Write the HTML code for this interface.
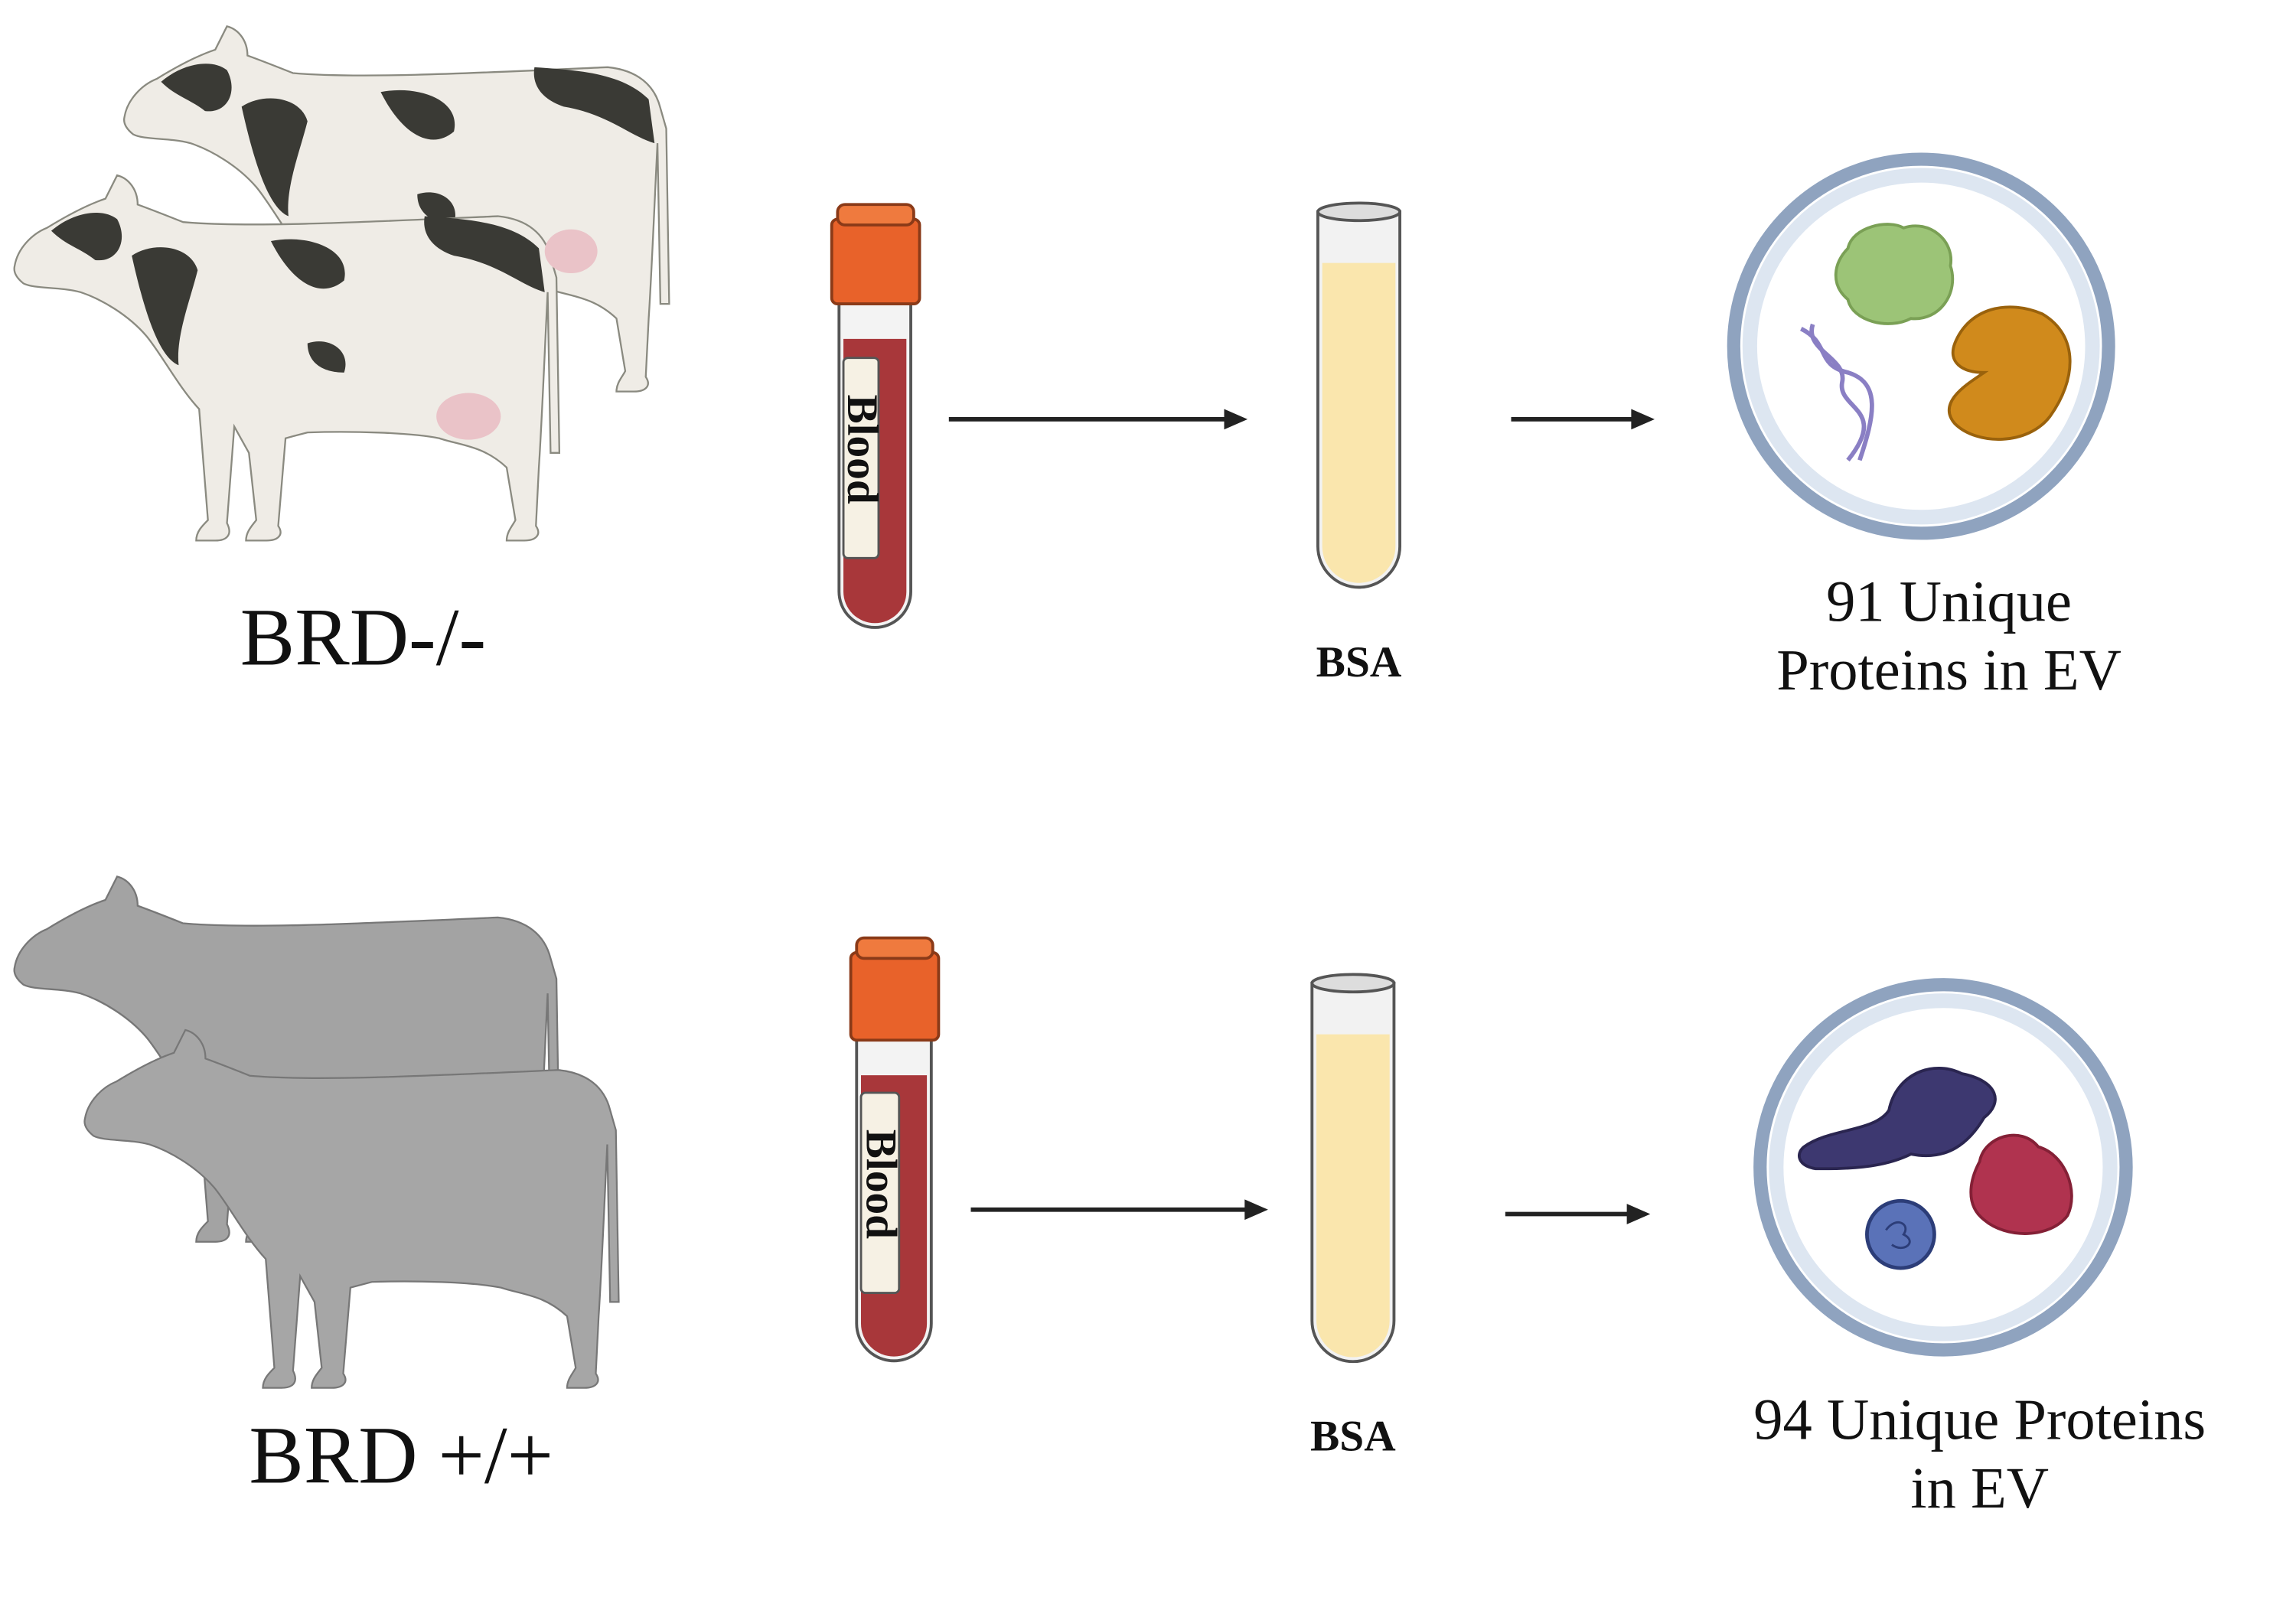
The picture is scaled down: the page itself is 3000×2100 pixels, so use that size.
<!DOCTYPE html>
<html><head><meta charset="utf-8"><style>
html,body{margin:0;padding:0;background:#fff;}
svg{display:block;}
text{font-family:"Liberation Serif",serif;fill:#111;}
</style></head><body>
<svg width="3000" height="2100" viewBox="0 0 1568 1100" preserveAspectRatio="none" xmlns="http://www.w3.org/2000/svg">
<defs>
<path id="cow" d="M0,62 C2,50 12,40 22,36 C35,28 50,20 62,16 L70,0 C78,2 84,10 84,20 C95,24 105,28 115,32 C160,36 240,32 330,28 C350,30 362,40 366,56 L370,70 L372,190 L366,190 L364,80 C362,120 360,170 358,200 L356,240 C360,246 356,250 348,250 L336,250 C336,244 340,240 342,236 L336,200 C320,185 305,185 290,180 C270,176 230,175 200,176 L185,180 L180,240 C184,246 180,250 172,250 L158,250 C158,244 162,240 165,236 L160,190 L150,172 L145,238 C149,246 145,250 137,250 L124,250 C124,244 128,240 132,236 L126,160 C112,145 100,122 90,110 C78,96 60,85 45,80 C30,76 14,78 6,74 C1,70 -1,66 0,62 Z"/>
<path id="spots" d="M25,38 C40,25 60,22 70,30 C78,45 70,60 55,58 C45,50 35,48 25,38Z M80,55 C95,45 120,48 125,65 C120,85 110,110 112,130 C100,125 90,100 80,55Z M175,45 C200,40 230,50 225,72 C210,85 190,75 175,45Z M200,115 C215,110 230,120 225,135 C210,135 200,128 200,115Z M280,28 C310,30 340,32 358,50 L362,80 C345,75 330,60 300,55 C285,50 278,40 280,28Z"/>
</defs>
<g transform="translate(85,18)"><use href="#cow" fill="#efece6" stroke="#8a8a80" stroke-width="1.2"/><use href="#spots" fill="#3a3a35"/></g>
<g transform="translate(10,120)"><use href="#cow" fill="#efece6" stroke="#8a8a80" stroke-width="1.2"/><use href="#spots" fill="#3a3a35"/><ellipse cx="310" cy="165" rx="22" ry="16" fill="#eac3c8"/></g>
<ellipse cx="390" cy="172" rx="18" ry="15" fill="#eac3c8"/>
<g transform="translate(10,600)"><use href="#cow" fill="#a3a3a3" stroke="#777" stroke-width="1.2"/></g>
<g transform="translate(58,705) scale(0.98)"><use href="#cow" fill="#a6a6a6" stroke="#777" stroke-width="1.2"/></g>

<text x="248" y="455" font-size="56" text-anchor="middle">BRD-/-</text>
<text x="274" y="1015" font-size="56" text-anchor="middle">BRD +/+</text>

<g>
<path d="M573,205 L622,205 L622,405 A24.5,24.5 0 0 1 573,405 Z" fill="#f3f3f3" stroke="#555" stroke-width="2"/>
<path d="M576,232 L619,232 L619,405 A21.5,21.5 0 0 1 576,405 Z" fill="#a8373a"/>
<rect x="576" y="245" width="24" height="137" rx="3" fill="#f6f1e4" stroke="#555" stroke-width="1.5"/>
<text x="0" y="0" font-size="30" font-weight="bold" transform="translate(579,270) rotate(90)">Blood</text>
<rect x="568" y="150" width="60" height="58" rx="4" fill="#e8622a" stroke="#8a3a18" stroke-width="2"/>
<rect x="572" y="140" width="52" height="14" rx="5" fill="#ef7a3e" stroke="#8a3a18" stroke-width="2"/>
</g>
<g>
<path d="M585,708 L636,708 L636,906 A25.5,25.5 0 0 1 585,906 Z" fill="#f3f3f3" stroke="#555" stroke-width="2"/>
<path d="M588,736 L633,736 L633,906 A22.5,22.5 0 0 1 588,906 Z" fill="#a8373a"/>
<rect x="588" y="748" width="26" height="137" rx="3" fill="#f6f1e4" stroke="#555" stroke-width="1.5"/>
<text x="0" y="0" font-size="30" font-weight="bold" transform="translate(592,773) rotate(90)">Blood</text>
<rect x="581" y="652" width="60" height="60" rx="4" fill="#e8622a" stroke="#8a3a18" stroke-width="2"/>
<rect x="585" y="642" width="52" height="14" rx="5" fill="#ef7a3e" stroke="#8a3a18" stroke-width="2"/>
</g>
<path d="M900,145 L956,145 L956,374 A28,28 0 0 1 900,374 Z" fill="#f2f2f2" stroke="#555" stroke-width="2"/>
<path d="M903,180 L953,180 L953,374 A25,25 0 0 1 903,374 Z" fill="#fae6ad"/>
<ellipse cx="928" cy="145" rx="28" ry="6" fill="#ddd" stroke="#555" stroke-width="2"/>
<path d="M896,673 L952,673 L952,904 A28,28 0 0 1 896,904 Z" fill="#f2f2f2" stroke="#555" stroke-width="2"/>
<path d="M899,708 L949,708 L949,904 A25,25 0 0 1 899,904 Z" fill="#fae6ad"/>
<ellipse cx="924" cy="673" rx="28" ry="6" fill="#ddd" stroke="#555" stroke-width="2"/>
<text x="928" y="463" font-size="30" font-weight="bold" text-anchor="middle">BSA</text>
<text x="924" y="993" font-size="30" font-weight="bold" text-anchor="middle">BSA</text>

<g stroke="#222" stroke-width="3" fill="#222">
<line x1="648" y1="287" x2="838" y2="287"/><path d="M852,287 L836,280 L836,294Z" stroke="none"/>
<line x1="1032" y1="287" x2="1116" y2="287"/><path d="M1130,287 L1114,280 L1114,294Z" stroke="none"/>
<line x1="663" y1="828" x2="852" y2="828"/><path d="M866,828 L850,821 L850,835Z" stroke="none"/>
<line x1="1028" y1="831" x2="1113" y2="831"/><path d="M1127,831 L1111,824 L1111,838Z" stroke="none"/>
</g>

<circle cx="1312" cy="237" r="128" fill="#fff" stroke="#8fa3bf" stroke-width="9"/>
<circle cx="1312" cy="237" r="117" fill="none" stroke="#dde6f1" stroke-width="10"/>
<circle cx="1327" cy="799" r="125" fill="#fff" stroke="#8fa3bf" stroke-width="9"/>
<circle cx="1327" cy="799" r="114" fill="none" stroke="#dde6f1" stroke-width="10"/>

<path d="M1262,170 C1265,155 1290,150 1300,156 C1318,150 1335,165 1332,182 C1338,200 1325,220 1305,218 C1290,226 1265,220 1262,205 C1250,195 1252,180 1262,170Z" fill="#9cc477" stroke="#7aa055" stroke-width="2"/>
<path d="M1335,235 C1345,210 1372,205 1395,215 C1420,230 1418,260 1400,285 C1385,305 1350,305 1335,290 C1322,275 1345,262 1355,255 C1340,255 1330,248 1335,235Z" fill="#d08a1c" stroke="#9a620c" stroke-width="2"/>
<g fill="none" stroke="#8a7fc4" stroke-width="3">
<path d="M1230,225 C1250,235 1240,250 1262,255 C1285,262 1280,285 1270,315"/>
<path d="M1238,222 C1232,240 1262,245 1258,262 C1255,280 1290,280 1262,315"/>
</g>
<path d="M1232,785 C1250,772 1280,775 1290,760 C1295,735 1320,725 1340,735 C1365,740 1368,755 1355,765 C1345,782 1330,795 1305,790 C1285,800 1260,800 1240,800 C1228,798 1226,790 1232,785Z" fill="#3d3870" stroke="#2a2550" stroke-width="2"/>
<path d="M1352,795 C1355,778 1380,770 1392,785 C1410,790 1420,815 1412,832 C1400,848 1370,848 1355,835 C1342,825 1345,808 1352,795Z" fill="#b0334f" stroke="#842036" stroke-width="2"/>
<circle cx="1298" cy="845" r="23" fill="#5a72b8" stroke="#2c3d78" stroke-width="2.5"/>
<path d="M1288,842 C1295,832 1305,838 1300,845 C1310,850 1300,858 1292,852" fill="none" stroke="#2c3d78" stroke-width="1.5"/>

<text x="1331" y="425" font-size="40" text-anchor="middle">91 Unique</text>
<text x="1331" y="472" font-size="40" text-anchor="middle">Proteins in EV</text>
<text x="1352" y="985" font-size="40" text-anchor="middle">94 Unique Proteins</text>
<text x="1352" y="1032" font-size="40" text-anchor="middle">in EV</text>
</svg>
</body></html>
